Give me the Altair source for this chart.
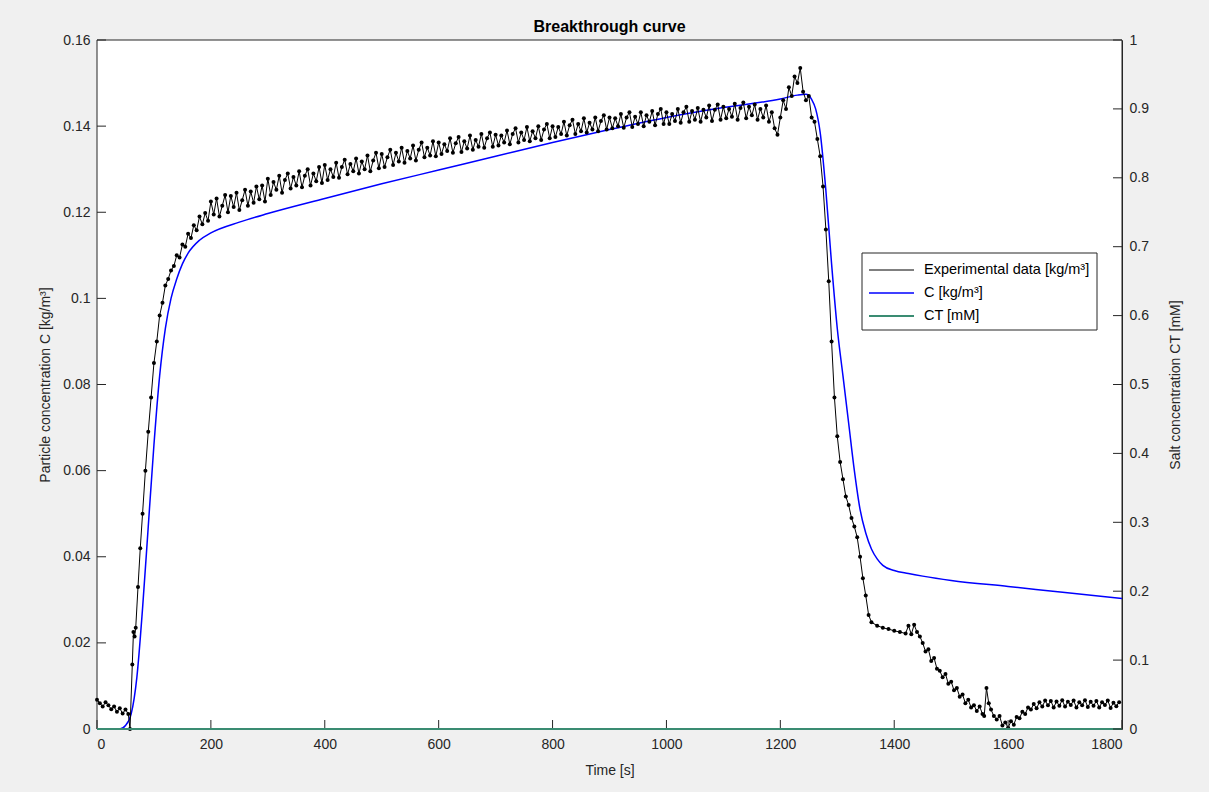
import altair as alt
import pandas as pd

# ---------------- data ----------------
# experimental data (time [s], C [kg/m3]) read from the picture
exp_points = [
    (0, 0.0068), (5, 0.0060), (10, 0.0052), (15, 0.0062), (20, 0.0055), (25, 0.0046), (30, 0.0052),
    (35, 0.0040), (40, 0.0048), (45, 0.0036), (50, 0.0045), (55, 0.0035), (58, 0.0000),
    (62, 0.0150), (64, 0.0225), (66, 0.0215), (68, 0.0235), (72, 0.0330), (76, 0.0420),
    (80, 0.0500), (85, 0.0600), (90, 0.0690), (95, 0.0770), (100, 0.0850), (105, 0.0900),
    (110, 0.0960), (115, 0.0990), (120, 0.1030), (125, 0.1045), (130, 0.1065), (135, 0.1075),
    (140, 0.1100), (145, 0.1095), (150, 0.1125), (155, 0.1120), (160, 0.1150), (165, 0.1140),
    (170, 0.1170), (175, 0.1158), (180, 0.1190), (185, 0.1172), (190, 0.1198), (195, 0.1180),
    (200, 0.1225), (205, 0.1195), (210, 0.1232), (215, 0.1190), (220, 0.1215), (225, 0.1240),
    (230, 0.1200), (235, 0.1238), (240, 0.1212), (245, 0.1245), (250, 0.1205), (255, 0.1228),
    (260, 0.1252), (265, 0.1215), (270, 0.1248), (275, 0.1222), (280, 0.1260), (285, 0.1230),
    (290, 0.1262), (295, 0.1225),
    (300, 0.1278), (305, 0.1240), (310, 0.1270), (315, 0.1252), (320, 0.1285), (325, 0.1245),
    (330, 0.1275), (335, 0.1290), (340, 0.1255), (345, 0.1282), (350, 0.1262), (355, 0.1295),
    (360, 0.1258), (365, 0.1285), (370, 0.1300), (375, 0.1262), (380, 0.1290), (385, 0.1272),
    (390, 0.1305), (395, 0.1268),
    (400, 0.1310), (405, 0.1275), (410, 0.1300), (415, 0.1282), (420, 0.1315), (425, 0.1280),
    (430, 0.1305), (435, 0.1322), (440, 0.1288), (445, 0.1312), (450, 0.1295), (455, 0.1325),
    (460, 0.1290), (465, 0.1318), (470, 0.1300), (475, 0.1332), (480, 0.1295), (485, 0.1320),
    (490, 0.1338), (495, 0.1302),
    (500, 0.1335), (505, 0.1305), (510, 0.1328), (515, 0.1345), (520, 0.1310), (525, 0.1338),
    (530, 0.1318), (535, 0.1350), (540, 0.1315), (545, 0.1342), (550, 0.1325), (555, 0.1355),
    (560, 0.1320), (565, 0.1345), (570, 0.1362), (575, 0.1328), (580, 0.1350), (585, 0.1332),
    (590, 0.1365), (595, 0.1330),
    (600, 0.1362), (605, 0.1335), (610, 0.1358), (615, 0.1342), (620, 0.1372), (625, 0.1338),
    (630, 0.1360), (635, 0.1375), (640, 0.1340), (645, 0.1365), (650, 0.1348), (655, 0.1378),
    (660, 0.1345), (665, 0.1368), (670, 0.1352), (675, 0.1382), (680, 0.1350), (685, 0.1372),
    (690, 0.1385), (695, 0.1352),
    (700, 0.1380), (705, 0.1355), (710, 0.1378), (715, 0.1362), (720, 0.1390), (725, 0.1358),
    (730, 0.1382), (735, 0.1395), (740, 0.1362), (745, 0.1385), (750, 0.1368), (755, 0.1398),
    (760, 0.1365), (765, 0.1388), (770, 0.1372), (775, 0.1400), (780, 0.1368), (785, 0.1392),
    (790, 0.1405), (795, 0.1372),
    (800, 0.1400), (805, 0.1375), (810, 0.1398), (815, 0.1382), (820, 0.1410), (825, 0.1378),
    (830, 0.1402), (835, 0.1415), (840, 0.1382), (845, 0.1405), (850, 0.1388), (855, 0.1418),
    (860, 0.1385), (865, 0.1408), (870, 0.1392), (875, 0.1420), (880, 0.1388), (885, 0.1412),
    (890, 0.1425), (895, 0.1392),
    (900, 0.1420), (905, 0.1395), (910, 0.1418), (915, 0.1400), (920, 0.1428), (925, 0.1396),
    (930, 0.1420), (935, 0.1432), (940, 0.1398), (945, 0.1422), (950, 0.1405), (955, 0.1432),
    (960, 0.1400), (965, 0.1425), (970, 0.1410), (975, 0.1435), (980, 0.1402), (985, 0.1428),
    (990, 0.1440), (995, 0.1405),
    (1000, 0.1432), (1005, 0.1405), (1010, 0.1428), (1015, 0.1412), (1020, 0.1440),
    (1025, 0.1408), (1030, 0.1432), (1035, 0.1445), (1040, 0.1410), (1045, 0.1435),
    (1050, 0.1415), (1055, 0.1442), (1060, 0.1410), (1065, 0.1438), (1070, 0.1420),
    (1075, 0.1448), (1080, 0.1412), (1085, 0.1438), (1090, 0.1450), (1095, 0.1415),
    (1100, 0.1445), (1105, 0.1418), (1110, 0.1440), (1115, 0.1422), (1120, 0.1452),
    (1125, 0.1415), (1130, 0.1442), (1135, 0.1455), (1140, 0.1418), (1145, 0.1445),
    (1150, 0.1425), (1155, 0.1450), (1160, 0.1415), (1165, 0.1440), (1170, 0.1420),
    (1175, 0.1448), (1180, 0.1410), (1185, 0.1432), (1190, 0.1395), (1195, 0.1380),
    (1200, 0.1420), (1205, 0.1460), (1210, 0.1440), (1215, 0.1490), (1220, 0.1470),
    (1225, 0.1515), (1230, 0.1500), (1235, 0.1535), (1240, 0.1480), (1245, 0.1460),
    (1250, 0.1470), (1255, 0.1420), (1260, 0.1410), (1265, 0.1370), (1270, 0.1330),
    (1275, 0.1260), (1280, 0.1160), (1285, 0.1040), (1290, 0.0900), (1295, 0.0770),
    (1300, 0.0680), (1305, 0.0620), (1310, 0.0580), (1315, 0.0540), (1320, 0.0520),
    (1325, 0.0490), (1330, 0.0470), (1335, 0.0445), (1340, 0.0400), (1345, 0.0350),
    (1350, 0.0310), (1355, 0.0265), (1360, 0.0248), (1370, 0.0240), (1380, 0.0235),
    (1390, 0.0232), (1400, 0.0228), (1410, 0.0225), (1420, 0.0222), (1425, 0.0240),
    (1430, 0.0220), (1435, 0.0242), (1440, 0.0225), (1445, 0.0215), (1450, 0.0200),
    (1455, 0.0180), (1460, 0.0185), (1465, 0.0158), (1470, 0.0165), (1475, 0.0140),
    (1480, 0.0135), (1485, 0.0120), (1490, 0.0128), (1495, 0.0105), (1500, 0.0110),
    (1505, 0.0090), (1510, 0.0095), (1515, 0.0075), (1520, 0.0080), (1525, 0.0060),
    (1530, 0.0068), (1535, 0.0050), (1540, 0.0055), (1545, 0.0042), (1550, 0.0052),
    (1555, 0.0035), (1558, 0.0030), (1562, 0.0095), (1566, 0.0060), (1570, 0.0045),
    (1575, 0.0030), (1580, 0.0022), (1585, 0.0030), (1590, 0.0008), (1595, 0.0015),
    (1600, 0.0003), (1605, 0.0018), (1610, 0.0010), (1615, 0.0028), (1620, 0.0025),
    (1625, 0.0040), (1630, 0.0035), (1635, 0.0050), (1640, 0.0045), (1645, 0.0058),
    (1650, 0.0048), (1655, 0.0062), (1660, 0.0052), (1665, 0.0066), (1670, 0.0055),
    (1675, 0.0065), (1680, 0.0050), (1685, 0.0064), (1690, 0.0054), (1695, 0.0067),
    (1700, 0.0052), (1705, 0.0063), (1710, 0.0056), (1715, 0.0066), (1720, 0.0050),
    (1725, 0.0062), (1730, 0.0055), (1735, 0.0067), (1740, 0.0051), (1745, 0.0063),
    (1750, 0.0054), (1755, 0.0065), (1760, 0.0050), (1765, 0.0062), (1770, 0.0056),
    (1775, 0.0066), (1780, 0.0049), (1785, 0.0061), (1790, 0.0053), (1795, 0.0062),
]

model_t = [0, 40, 50, 60, 70, 80, 90, 100, 110, 120, 130, 140, 150, 160, 180, 200, 250, 300, 400,
           500, 600, 700, 800, 900, 1000, 1100, 1200, 1230, 1245, 1255, 1262, 1270, 1280, 1290,
           1300, 1310, 1320, 1330, 1340, 1350, 1360, 1370, 1380, 1400, 1425, 1450, 1500, 1600,
           1700, 1800]
model_c = [0.0, 0.0, 0.0008, 0.0035, 0.012, 0.028, 0.047, 0.066, 0.082, 0.093, 0.100, 0.1045,
           0.108, 0.1105, 0.1135, 0.1152, 0.1177, 0.1197, 0.1232, 0.1266, 0.1298, 0.1330, 0.1362,
           0.1392, 0.1420, 0.1443, 0.1463, 0.1472, 0.1474, 0.1462, 0.1440, 0.1385, 0.1250, 0.1080,
           0.0930, 0.0820, 0.0710, 0.0600, 0.0510, 0.0455, 0.0418, 0.0395, 0.0380, 0.0368, 0.0361,
           0.0355, 0.0345, 0.0331, 0.0317, 0.0303]

ct_t = [0, 1800]
ct_c = [0.0, 0.0]

series_names = ["Experimental data [kg/m³]", "C [kg/m³]", "CT [mM]"]
series_colors = ["#000000", "#0000ff", "#3a8c72"]
series_widths = [1.0, 2.0, 2.0]

x_ticks = [0, 200, 400, 600, 800, 1000, 1200, 1400, 1600, 1800]
yl_ticks = [0, 0.02, 0.04, 0.06, 0.08, 0.1, 0.12, 0.14, 0.16]
yr_ticks = [0, 0.1, 0.2, 0.3, 0.4, 0.5, 0.6, 0.7, 0.8, 0.9, 1]

# ---------------- layout ----------------
W, H = 1025, 689
PAD_L, PAD_T, PAD_R, PAD_B = 97, 40, 87, 63
TICK = 9
AX = "#262626"
FONT = "Liberation Sans"
LEG_X, LEG_Y, LEG_W, LEG_H = 765, 213, 235, 77

exp_df = pd.DataFrame(exp_points, columns=["t", "c"])
exp_df["s"] = series_names[0]
model_df = pd.DataFrame({"t": model_t, "c": model_c, "s": series_names[1]})
ct_df = pd.DataFrame({"t": ct_t, "c": ct_c, "s": series_names[2]})
one = pd.DataFrame({"a": [0]})

xscale = alt.Scale(domain=[0, 1800], nice=False, zero=False)
ylscale = alt.Scale(domain=[0, 0.16], nice=False)
yrscale = alt.Scale(domain=[0, 1], nice=False)

color_enc = alt.Color("s:N", scale=alt.Scale(domain=series_names, range=series_colors),
                      legend=alt.Legend(title=None))
width_enc = alt.StrokeWidth("s:N", scale=alt.Scale(domain=series_names, range=series_widths),
                            legend=alt.Legend(title=None))

x_axis = alt.Axis(title="Time [s]", values=x_ticks, format="~r", ticks=False,
                  labelPadding=8, titlePadding=12, grid=False)
yl_axis = alt.Axis(title="Particle concentration C [kg/m³]", values=yl_ticks, format="~r",
                   ticks=False, labelPadding=7, titlePadding=10, grid=False)
yr_axis = alt.Axis(title="Salt concentration CT [mM]", values=yr_ticks, format="~r",
                   ticks=False, labelPadding=7, titlePadding=34, grid=False, orient="right",
                   titleAngle=270)

plotbg = alt.Chart(one).mark_rect(fill="white", stroke=AX, strokeWidth=1).encode(
    x=alt.value(0), x2=alt.value(W), y=alt.value(0), y2=alt.value(H))
legbox = alt.Chart(one).mark_rect(fill="white", stroke="#262626", strokeWidth=1).encode(
    x=alt.value(LEG_X), x2=alt.value(LEG_X + LEG_W),
    y=alt.value(LEG_Y), y2=alt.value(LEG_Y + LEG_H))

exp_line = alt.Chart(exp_df).mark_line(strokeWidth=1).encode(
    x=alt.X("t:Q", scale=xscale, axis=x_axis),
    y=alt.Y("c:Q", scale=ylscale, axis=yl_axis),
    color=color_enc, strokeWidth=width_enc, order="t:Q")
exp_pts = alt.Chart(exp_df).mark_circle(size=16, opacity=1, color="black").encode(
    x=alt.X("t:Q", scale=xscale), y=alt.Y("c:Q", scale=ylscale))
model_line = alt.Chart(model_df).mark_line(interpolate="monotone").encode(
    x=alt.X("t:Q", scale=xscale), y=alt.Y("c:Q", scale=ylscale),
    color=color_enc, strokeWidth=width_enc, order="t:Q")

xt_df = pd.DataFrame({"t": x_ticks})
ylt_df = pd.DataFrame({"v": yl_ticks})
yrt_df = pd.DataFrame({"v": yr_ticks})

xticks_layer = alt.Chart(xt_df).mark_rule(color=AX, strokeWidth=1).encode(
    x=alt.X("t:Q", scale=xscale), y=alt.value(H), y2=alt.value(H - TICK))
ylticks_layer = alt.Chart(ylt_df).mark_rule(color=AX, strokeWidth=1).encode(
    y=alt.Y("v:Q", scale=ylscale), x=alt.value(0), x2=alt.value(TICK))

left = alt.layer(plotbg, model_line, exp_line, exp_pts, xticks_layer, ylticks_layer)

ct_line = alt.Chart(ct_df).mark_line().encode(
    x=alt.X("t:Q", scale=xscale), y=alt.Y("c:Q", scale=yrscale, axis=yr_axis),
    color=color_enc, strokeWidth=width_enc)
yrticks_layer = alt.Chart(yrt_df).mark_rule(color=AX, strokeWidth=1).encode(
    y=alt.Y("v:Q", scale=yrscale), x=alt.value(W - TICK), x2=alt.value(W))
right = alt.layer(ct_line, yrticks_layer, legbox)

chart = alt.layer(left, right).resolve_scale(y="independent").properties(
    width=W, height=H,
    background="#f0f0f0",
    title=alt.Title("Breakthrough curve", fontSize=16, fontWeight="bold", font=FONT,
                    color="black", offset=-2),
    padding={"left": PAD_L, "top": PAD_T, "right": PAD_R, "bottom": PAD_B},
    autosize=alt.AutoSizeParams(type="none"),
).configure_view(stroke=None).configure_axis(
    zindex=1, domainColor=AX, labelColor=AX, titleColor=AX, labelFont=FONT, titleFont=FONT,
    labelFontSize=14, titleFontSize=14, titleFontWeight="normal", domainWidth=1,
).configure_legend(
    orient="none", legendX=771, legendY=218.5, strokeColor=None, fillColor=None,
    padding=0, symbolType="stroke", symbolSize=2025, clipHeight=23, labelFont=FONT,
    labelFontSize=14.5, labelLimit=400, labelColor="black", rowPadding=0, labelOffset=9,
    symbolStrokeWidth=2,
)

chart.save("out.html", embed_options={"renderer": "svg", "actions": False})
